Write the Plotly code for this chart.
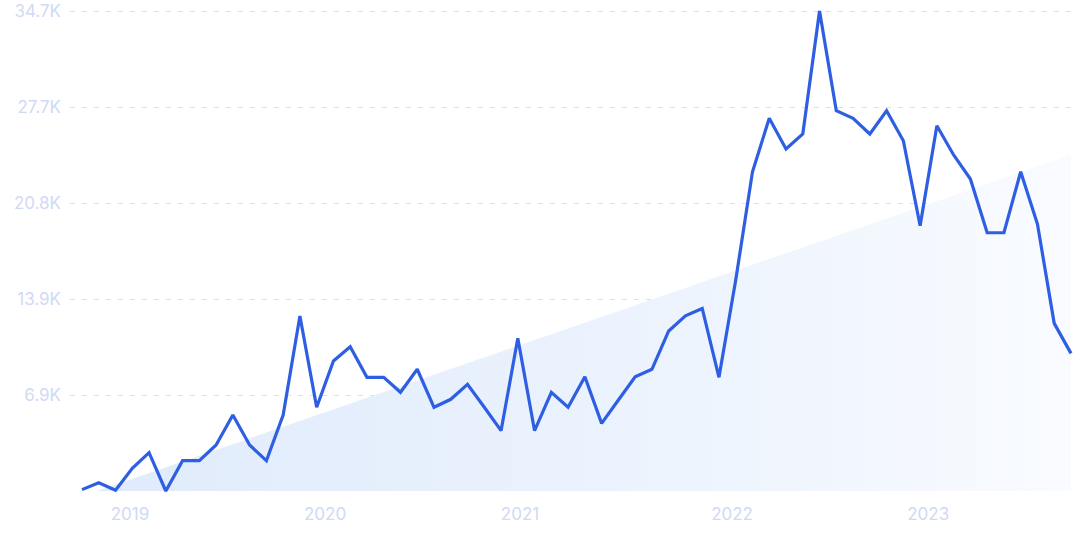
import plotly.graph_objects as go

# Monthly values, Oct 2018 .. Sep 2023 (index 0..59)
month_index = list(range(60))
values = [
    100, 600, 60, 1640, 2770, 0, 2190, 2190, 3325, 5494,
    3325, 2190, 5494, 12650, 6050, 9400, 10430, 8220, 8220, 7135,
    8800, 6050, 6630, 7710, 6050, 4360, 11040, 4360, 7135, 6050,
    8260, 4890, 6580, 8260, 8800, 11570, 12670, 13200, 8220, 15250,
    23080, 26940, 24720, 25810, 34700, 27490, 26940, 25810, 27490, 25320,
    19180, 26410, 24290, 22550, 18670, 18670, 23080, 19300, 12120, 9950,
]

# Trend band (start / end)
trend_x = [0.9, 59]
trend_y = [0, 24300]

y_tickvals = [6940, 13880, 20820, 27760, 34700]
y_ticktext = ["6.9K", "13.9K", "20.8K", "27.7K", "34.7K"]

x_tickvals = [2.86, 14.5, 26.13, 38.78, 50.48]
x_ticktext = ["2019", "2020", "2021", "2022", "2023"]

fig = go.Figure()

fig.add_trace(go.Scatter(
    x=trend_x, y=trend_y, mode="lines", fill="tozeroy",
    line=dict(width=0, color="rgba(0,0,0,0)"),
    fillgradient=dict(type="horizontal",
                      colorscale=[[0, "#e0ebfb"], [0.5, "#eaf2fd"], [1, "#f9fbff"]]),
    hoverinfo="skip", showlegend=False,
))

fig.add_trace(go.Scatter(
    x=month_index, y=values, mode="lines",
    line=dict(color="#2e5fe3", width=3.2),
    showlegend=False,
))

fig.update_layout(
    width=1075, height=537,
    margin=dict(l=70, r=0, t=5, b=40),
    paper_bgcolor="white", plot_bgcolor="white",
    font=dict(family="Inter", size=17, color="#d0d9f5"),
    xaxis=dict(
        range=[-0.716, 59.24], tickvals=x_tickvals, ticktext=x_ticktext,
        showgrid=False, zeroline=False, showline=False, ticks="",
        ticklabelstandoff=5,
    ),
    yaxis=dict(
        range=[-434, 35134], tickvals=y_tickvals, ticktext=y_ticktext,
        showgrid=True, gridcolor="#d3e1f6", gridwidth=1, griddash="5px,7px",
        zeroline=False, showline=False, ticks="",
        ticklabelstandoff=8,
    ),
)

fig.write_html("out.html")
